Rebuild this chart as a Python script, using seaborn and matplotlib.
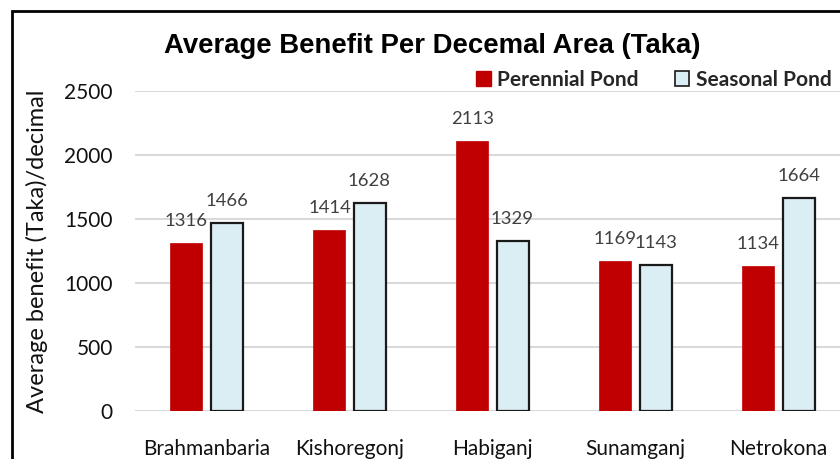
import pandas as pd
import matplotlib
matplotlib.use("Agg")
import matplotlib.pyplot as plt
from matplotlib.patches import Patch, Rectangle
import seaborn as sns

# Chart values
districts = ['Brahmanbaria', 'Kishoregonj', 'Habiganj', 'Sunamganj', 'Netrokona']
perennial = [1316, 1414, 2113, 1169, 1134]
seasonal = [1466, 1628, 1329, 1143, 1664]
pond_types = ['Perennial Pond', 'Seasonal Pond']
y_ticks = [0, 500, 1000, 1500, 2000, 2500]

df = pd.DataFrame({'District': districts, 'Perennial Pond': perennial, 'Seasonal Pond': seasonal})
df_long = df.melt(id_vars='District', var_name='Pond', value_name='Benefit')

red = '#C00000'
light_blue = '#DAEEF3'

sns.set_theme(style='white')
plt.rcParams['font.family'] = ['Lato', 'DejaVu Sans']

fig = plt.figure(figsize=(8.4, 4.59), dpi=100)
ax = fig.add_axes([135 / 840, 1 - 411 / 459, 715 / 840, 320 / 459])

sns.barplot(data=df_long, x='District', y='Benefit', hue='Pond', hue_order=pond_types,
            palette=[red, light_blue], width=0.56, gap=0.2, saturation=1,
            legend=False, ax=ax)

# red bars without outline, light blue bars with a dark outline
for cont, ec, lw in zip(ax.containers, [red, '#1a1a1a'], [0.5, 1.6]):
    for bar in cont:
        bar.set_edgecolor(ec)
        bar.set_linewidth(lw)
    ax.bar_label(cont, fmt='%d', padding=10, fontsize=13.3, color='#404040')

ax.set_xlim(-0.5, 4.5)
ax.set_ylim(0, 2500)
ax.set_yticks(y_ticks)
ax.yaxis.grid(True, color='#d9d9d9', linewidth=1.5)
ax.set_axisbelow(True)
for s in ax.spines.values():
    s.set_visible(False)
ax.tick_params(axis='both', length=0, labelsize=15, labelcolor='#111111')
ax.tick_params(axis='x', pad=20)
ax.tick_params(axis='y', pad=16)
ax.set_xlabel('')
ax.set_ylabel('Average benefit (Taka)/decimal', fontsize=17, color='#111111', labelpad=12)

fig.text(0.515, 1 - 46 / 459, 'Average Benefit Per Decemal Area (Taka)', ha='center', va='center',
         fontsize=19.8, fontweight='bold', family=['Liberation Sans', 'DejaVu Sans'], color='black')

handles = [Patch(facecolor=red, edgecolor=red),
           Patch(facecolor=light_blue, edgecolor='#1a1a1a', linewidth=1.2)]
fig.legend(handles, pond_types, loc='center right', bbox_to_anchor=(1.012, 1 - 80 / 459),
           ncol=2, frameon=False, handlelength=0.7, handleheight=0.7, handletextpad=0.3,
           columnspacing=1.75, prop={'weight': 'bold', 'size': 15})

# outer frame of the chart (cut by the right and bottom edges)
fig.patches.append(Rectangle((12 / 840, -0.2), 1.2, 0.2 + (459 - 11) / 459,
                             transform=fig.transFigure, fill=False, edgecolor='black', linewidth=2))

fig.savefig('out.png', dpi=100)
